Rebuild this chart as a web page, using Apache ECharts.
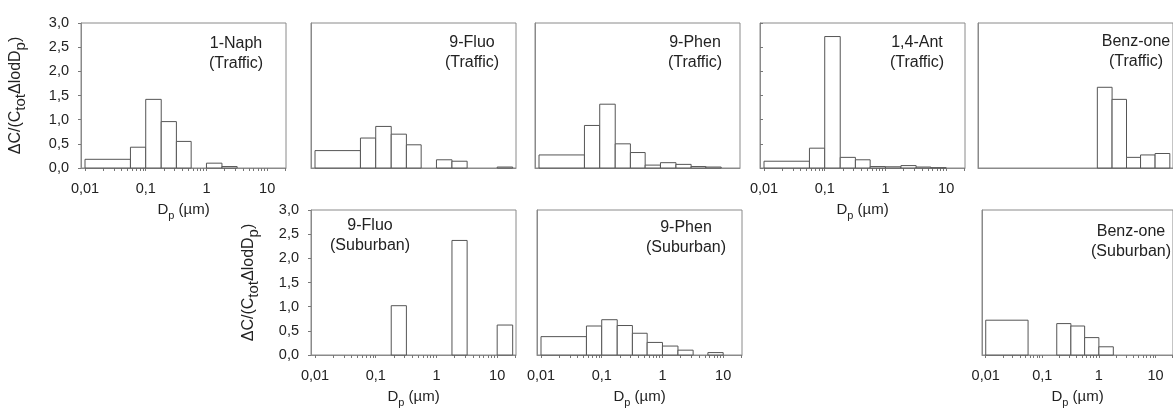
<!DOCTYPE html>
<html>
<head>
<meta charset="utf-8">
<script src="https://cdn.jsdelivr.net/npm/echarts@6/dist/echarts.min.js"></script>
<style>
  html, body { margin: 0; padding: 0; background: #fff; }
  #main { width: 1173px; height: 409px; }
</style>
</head>
<body>
<div id="main"></div>
<script>
// impactor stage edges, µm
const binEdges = [0.01, 0.056, 0.1, 0.18, 0.32, 0.56, 1.0, 1.8, 3.2, 5.6, 10, 18]

// ΔC/(Ctot ΔlogDp) per stage
const naphTraffic = [0.18, 0.43, 1.42, 0.96, 0.55, 0, 0.10, 0.03, 0, 0, 0]
const fluoTraffic = [0.36, 0.62, 0.86, 0.70, 0.48, 0, 0.17, 0.14, 0, 0, 0.02]
const phenTraffic = [0.27, 0.88, 1.32, 0.50, 0.32, 0.06, 0.11, 0.075, 0.03, 0.02, 0]
const antTraffic = [0.14, 0.41, 2.72, 0.22, 0.17, 0.03, 0.025, 0.05, 0.02, 0.005, 0]
const benzTraffic = [0, 0, 0, 0, 0, 0, 1.67, 1.42, 0.22, 0.27, 0.30]
const fluoSuburban = [0, 0, 0, 1.02, 0, 0, 0, 2.37, 0, 0, 0.62]
const phenSuburban = [0.38, 0.60, 0.73, 0.61, 0.45, 0.26, 0.185, 0.10, 0, 0.05, 0]
const benzSuburban = [0.72, 0, 0, 0.65, 0.60, 0.36, 0.17, 0, 0, 0, 0]

// axis ticks
const xTickValues = [0.01, 0.1, 1, 10]
const xTickLabels = ['0,01', '0,1', '1', '10']

const FONT = "'Liberation Sans', Arial, sans-serif"
const TEXT = '#222'
const FRAME = '#8a8a8a'
const X_MIN = -2.066
const X_MAX = 1.31

// panel layout
const panels = [
  { label: '1-Naph\n(Traffic)', data: naphTraffic, left: 81, top: 23, h: 145, tx: 236, ty: 44, yLab: true, xLab: true },
  { label: '9-Fluo\n(Traffic)', data: fluoTraffic, left: 311, top: 23, h: 145, tx: 472, ty: 43 },
  { label: '9-Phen\n(Traffic)', data: phenTraffic, left: 535, top: 23, h: 145, tx: 695, ty: 43 },
  { label: '1,4-Ant\n(Traffic)', data: antTraffic, left: 760, top: 23, h: 145, tx: 917, ty: 43, xLab: true, yIn: true },
  { label: 'Benz-one\n(Traffic)', data: benzTraffic, left: 978, top: 23, h: 145, tx: 1136, ty: 42 },
  { label: '9-Fluo\n(Suburban)', data: fluoSuburban, left: 311, top: 210, h: 146, tx: 370, ty: 226, yLab: true, xLab: true },
  { label: '9-Phen\n(Suburban)', data: phenSuburban, left: 537, top: 210, h: 146, tx: 686, ty: 228, xLab: true },
  { label: 'Benz-one\n(Suburban)', data: benzSuburban, left: 982, top: 210, h: 146, tx: 1131, ty: 232, xLab: true }
]

// log positions of 1..9 x decade, for the small ticks
const minorTicks = []
for (let n = -2; n <= 1; n++) {
  for (let k = 1; k <= 9; k++) {
    const v = Math.log10(k * Math.pow(10, n))
    if (v <= X_MAX) minorTicks.push(v)
  }
}

const renderBar = (params, api) => {
  const p0 = api.coord([api.value(0), 0])
  const p1 = api.coord([api.value(1), api.value(2)])
  return {
    type: 'rect',
    shape: { x: p0[0], y: p1[1], width: p1[0] - p0[0], height: p0[1] - p1[1] },
    style: { fill: '#fff', stroke: '#555', lineWidth: 1 }
  }
}

const grid = []
const xAxis = []
const yAxis = []
const series = []
const graphic = []

panels.forEach((p, i) => {
  grid.push({
    left: p.left, top: p.top, width: 205, height: p.h,
    show: true, borderColor: FRAME, borderWidth: 1
  })
  xAxis.push({
    gridIndex: i,
    type: 'value',
    min: X_MIN,
    max: X_MAX,
    splitLine: { show: false },
    axisLine: { onZero: false, lineStyle: { color: FRAME } },
    axisTick: {
      show: !!p.xLab,
      length: 3,
      customValues: minorTicks,
      lineStyle: { color: '#777' }
    },
    axisLabel: {
      show: !!p.xLab,
      customValues: xTickValues.map(v => Math.log10(v)),
      formatter: v => xTickLabels[Math.round(v) + 2],
      margin: 13,
      color: TEXT,
      fontSize: 14.5,
      fontFamily: FONT
    },
    name: p.xLab ? '{n|D}{s|p}{n| (µm)}' : '',
    nameLocation: 'middle',
    nameGap: 31,
    nameTextStyle: {
      color: TEXT,
      fontFamily: FONT,
      rich: {
        n: { fontSize: 15, lineHeight: 22, fontFamily: FONT, color: TEXT },
        s: { fontSize: 11, lineHeight: 11, verticalAlign: 'bottom', fontFamily: FONT, color: TEXT }
      }
    }
  })
  yAxis.push({
    gridIndex: i,
    type: 'value',
    min: 0,
    max: 3,
    interval: 0.5,
    position: 'left',
    splitLine: { show: false },
    axisLine: { show: true, onZero: false, lineStyle: { color: FRAME } },
    axisTick: {
      show: !!(p.yLab || p.yIn),
      inside: !!p.yIn,
      length: 3,
      lineStyle: { color: '#777' }
    },
    axisLabel: {
      show: !!p.yLab,
      formatter: v => v.toFixed(1).replace('.', ','),
      margin: 12,
      color: TEXT,
      fontSize: 14.5,
      fontFamily: FONT
    },
    name: p.yLab ? '{n|ΔC/(C}{s|tot}{n|ΔlodD}{s|p}{n|)}' : '',
    nameLocation: 'middle',
    nameRotate: 90,
    nameGap: i === 0 ? 53 : 50,
    nameTextStyle: {
      color: TEXT,
      fontFamily: FONT,
      rich: {
        n: { fontSize: 16, lineHeight: 24, fontFamily: FONT, color: TEXT },
        s: { fontSize: 15, lineHeight: 15, verticalAlign: 'bottom', fontFamily: FONT, color: TEXT }
      }
    }
  })
  const bars = []
  p.data.forEach((v, j) => {
    if (v > 0) bars.push([Math.log10(binEdges[j]), Math.log10(binEdges[j + 1]), v])
  })
  series.push({
    type: 'custom',
    xAxisIndex: i,
    yAxisIndex: i,
    renderItem: renderBar,
    encode: { x: [0, 1], y: 2 },
    silent: true,
    data: bars
  })
  graphic.push({
    type: 'text',
    x: p.tx,
    y: p.ty - 10,
    style: {
      text: p.label,
      font: '16px ' + FONT,
      fill: TEXT,
      align: 'center',
      verticalAlign: 'top',
      lineHeight: 20
    }
  })
})

const chart = echarts.init(document.getElementById('main'))
chart.setOption({
  animation: false,
  grid,
  xAxis,
  yAxis,
  series,
  graphic
})
</script>
</body>
</html>
